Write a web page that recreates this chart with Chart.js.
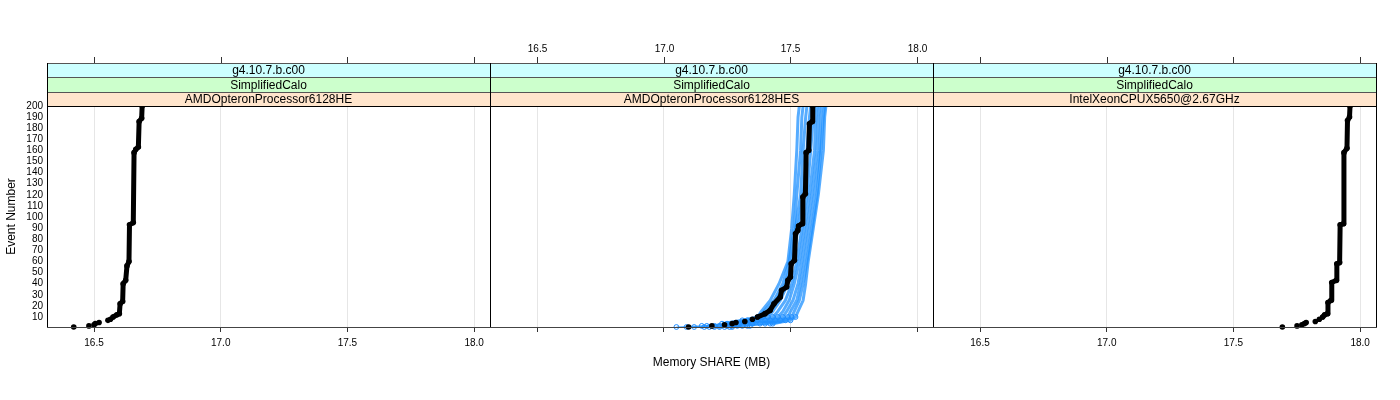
<!DOCTYPE html>
<html>
<head>
<meta charset="utf-8">
<script src="https://cdn.jsdelivr.net/npm/chart.js@4"></script>
<style>
  body { margin: 0; background: #fff; }
  #wrap { position: relative; width: 1400px; height: 400px; }
  canvas { position: absolute; top: 0; }
</style>
</head>
<body>
<div id="wrap">
  <canvas id="p1" width="490" height="400" style="left:0px"></canvas>
  <canvas id="p2" width="443" height="400" style="left:490px"></canvas>
  <canvas id="p3" width="467" height="400" style="left:933px"></canvas>
</div>
<script>
// tick labels and strip texts
const xTickValues = [16.5, 17.0, 17.5, 18.0];
const eventTickValues = [10, 20, 30, 40, 50, 60, 70, 80, 90, 100, 110, 120, 130, 140, 150, 160, 170, 180, 190, 200];
const stripVersion = "g4.10.7.b.c00";
const stripTest = "SimplifiedCalo";
const processors = ["AMDOpteronProcessor6128HE", "AMDOpteronProcessor6128HES", "IntelXeonCPUX5650@2.67GHz"];

// AMDOpteronProcessor6128HE (black), corner points of the curve
const heEvents = [1, 2, 3, 4, 5, 7, 8, 10, 12, 13, 22, 24, 40, 43, 56, 60, 93, 95, 158, 161, 163, 186, 189, 200];
const heShare = [16.42, 16.48, 16.50, 16.505, 16.52, 16.555, 16.565, 16.575, 16.59, 16.60, 16.603, 16.613, 16.615, 16.625, 16.63, 16.638, 16.64, 16.655, 16.658, 16.665, 16.675, 16.678, 16.688, 16.69];

// AMDOpteronProcessor6128HES (black reference)
const hesEvents = [1, 2, 3, 4, 5, 6, 8, 10, 13, 16, 22, 28, 34, 37, 43, 46, 58, 61, 85, 88, 92, 94, 118, 121, 158, 160, 184, 186, 200];
const hesShare = [17.098, 17.19, 17.24, 17.27, 17.285, 17.32, 17.35, 17.37, 17.40, 17.42, 17.435, 17.46, 17.465, 17.485, 17.49, 17.50, 17.503, 17.516, 17.52, 17.529, 17.532, 17.546, 17.549, 17.559, 17.562, 17.572, 17.575, 17.586, 17.588];

// AMDOpteronProcessor6128HES, other runs (blue)
const runEvents = [1, 2, 4, 7, 10, 15, 25, 40, 60, 90, 120, 160, 190, 200];
const run1 = [17.05, 17.15, 17.23, 17.31, 17.37, 17.385, 17.42, 17.455, 17.49, 17.505, 17.515, 17.525, 17.53, 17.535];
const run2 = [17.09, 17.17, 17.25, 17.33, 17.38, 17.395, 17.435, 17.47, 17.495, 17.515, 17.525, 17.54, 17.545, 17.55];
const run3 = [17.12, 17.20, 17.28, 17.35, 17.39, 17.41, 17.445, 17.48, 17.505, 17.52, 17.54, 17.55, 17.56, 17.565];
const run4 = [17.16, 17.22, 17.30, 17.37, 17.41, 17.43, 17.46, 17.49, 17.51, 17.53, 17.55, 17.565, 17.575, 17.58];
const run5 = [17.18, 17.25, 17.33, 17.40, 17.43, 17.45, 17.48, 17.505, 17.525, 17.545, 17.565, 17.58, 17.59, 17.595];
const run6 = [17.20, 17.27, 17.35, 17.42, 17.45, 17.47, 17.495, 17.515, 17.535, 17.555, 17.575, 17.595, 17.60, 17.605];
const run7 = [17.22, 17.29, 17.38, 17.44, 17.47, 17.485, 17.51, 17.53, 17.545, 17.565, 17.585, 17.605, 17.61, 17.615];
const run8 = [17.24, 17.31, 17.40, 17.46, 17.49, 17.50, 17.525, 17.54, 17.555, 17.575, 17.595, 17.615, 17.62, 17.625];
const run9 = [17.26, 17.33, 17.42, 17.48, 17.505, 17.515, 17.535, 17.55, 17.565, 17.585, 17.605, 17.62, 17.63, 17.635];
const run10 = [17.27, 17.34, 17.43, 17.50, 17.52, 17.53, 17.55, 17.56, 17.57, 17.59, 17.61, 17.63, 17.635, 17.64];

// IntelXeonCPUX5650@2.67GHz (black)
const xeonEvents = [1, 2, 3, 4, 5, 6, 8, 10, 12, 13, 23, 25, 41, 43, 58, 59, 93, 94, 158, 162, 187, 190, 200];
const xeonShare = [17.693, 17.751, 17.77, 17.78, 17.787, 17.823, 17.839, 17.852, 17.86, 17.871, 17.873, 17.885, 17.888, 17.906, 17.908, 17.919, 17.921, 17.934, 17.936, 17.948, 17.95, 17.958, 17.96];

Chart.defaults.font.family = "'Liberation Sans', Arial, sans-serif";
Chart.defaults.color = "#000";

function toPoints(events, share) {
  return events.map((e, i) => ({ x: share[i], y: e }));
}

function blackSet(events, share) {
  return {
    data: toPoints(events, share),
    showLine: true,
    borderColor: "#000",
    borderWidth: 5,
    borderJoinStyle: "round",
    borderCapStyle: "round",
    // the first events are separate dots, not a line
    segment: {
      borderColor: (c) => (c.p1.parsed.y <= 10 ? "rgba(0,0,0,0)" : undefined),
    },
    pointRadius: 2.8,
    pointBackgroundColor: "#000",
    pointBorderWidth: 0,
    clip: { left: 0, top: 0, right: 0, bottom: 4 },
  };
}

function blueSet(share) {
  return {
    data: toPoints(runEvents, share),
    showLine: true,
    borderColor: "rgba(30, 144, 255, 0.75)",
    borderWidth: 3,
    borderJoinStyle: "round",
    segment: {
      borderWidth: (c) => (c.p1.parsed.y <= 4 ? 1 : undefined),
    },
    // open circles only where the events are spread out at the bottom
    pointRadius: (c) => (c.raw && c.raw.y <= 10 ? 2.4 : 0),
    pointBorderColor: "#1e8cff",
    pointBackgroundColor: "rgba(0,0,0,0)",
    pointBorderWidth: 1,
    clip: { left: 0, top: 0, right: 0, bottom: 4 },
  };
}

// strips, frame and top ticks
const latticePlugin = {
  id: "lattice",
  afterDraw(chart, args, opts) {
    const { ctx, chartArea: a } = chart;
    const xs = chart.scales.x;
    ctx.save();
    const rows = [
      [63, 77, "#ccffff", stripVersion],
      [77, 92, "#ccffcc", stripTest],
      [92, 106, "#ffe5cc", opts.processor],
    ];
    ctx.font = "12px 'Liberation Sans', Arial, sans-serif";
    ctx.textAlign = "center";
    ctx.textBaseline = "middle";
    rows.forEach(([y0, y1, col, txt]) => {
      ctx.fillStyle = col;
      ctx.fillRect(a.left, y0, a.right - a.left, y1 - y0);
      ctx.strokeStyle = "#555";
      ctx.lineWidth = 1;
      ctx.strokeRect(a.left + 0.5, y0 + 0.5, a.right - a.left, y1 - y0);
      ctx.fillStyle = "#000";
      ctx.fillText(txt, (a.left + a.right) / 2, (y0 + y1) / 2 + 1);
    });
    // panel frame
    ctx.strokeStyle = "#000";
    ctx.beginPath();
    ctx.moveTo(a.left + 0.5, 63);
    ctx.lineTo(a.left + 0.5, a.bottom + 0.5);
    ctx.moveTo(a.left, a.top + 0.5);
    ctx.lineTo(a.right, a.top + 0.5);
    if (opts.rightEdge) {
      ctx.moveTo(a.right + 0.5, 63);
      ctx.lineTo(a.right + 0.5, a.bottom + 0.5);
    }
    ctx.stroke();
    ctx.strokeStyle = "#444";
    ctx.beginPath();
    ctx.moveTo(a.left, a.bottom + 0.5);
    ctx.lineTo(a.right + 1, a.bottom + 0.5);
    ctx.stroke();
    // top ticks
    ctx.strokeStyle = "#333";
    ctx.font = "10px 'Liberation Sans', Arial, sans-serif";
    ctx.fillStyle = "#000";
    xTickValues.forEach((v) => {
      const px = Math.round(xs.getPixelForValue(v)) + 0.5;
      ctx.beginPath();
      ctx.moveTo(px, 57);
      ctx.lineTo(px, 63);
      ctx.stroke();
      if (opts.topLabels) ctx.fillText(v.toFixed(1), px, 49);
    });
    ctx.restore();
  },
};

function makePanel(id, datasets, p) {
  return new Chart(document.getElementById(id), {
    type: "scatter",
    data: { datasets: datasets },
    plugins: [latticePlugin],
    options: {
      responsive: false,
      animation: false,
      devicePixelRatio: 1,
      layout: { autoPadding: false, padding: { left: 0, right: p.padRight, top: 106, bottom: 0 } },
      plugins: {
        legend: { display: false },
        tooltip: { enabled: false },
        lattice: { processor: p.processor, topLabels: p.topLabels, rightEdge: p.rightEdge },
      },
      scales: {
        x: {
          type: "linear",
          min: 16.3145,
          max: 18.0625,
          afterBuildTicks: (s) => {
            s.ticks = xTickValues.map((v) => ({ value: v }));
          },
          afterFit: (s) => {
            s.height = 73;
            s.paddingLeft = 0;
            s.paddingRight = 0;
          },
          grid: { color: "#e6e6e6", tickColor: "#333", tickLength: 5 },
          border: { display: false },
          ticks: {
            display: p.bottomLabels,
            autoSkip: false,
            maxRotation: 0,
            padding: 5,
            font: { size: 10 },
            callback: (v) => Number(v).toFixed(1),
          },
          title: {
            display: !!p.xTitle,
            text: p.xTitle || "",
            font: { size: 12 },
            padding: { top: 0, bottom: 30 },
          },
        },
        y: {
          type: "linear",
          min: 1,
          max: 200,
          display: p.yAxis,
          afterBuildTicks: (s) => {
            s.ticks = eventTickValues.map((v) => ({ value: v }));
          },
          afterFit: (s) => {
            s.width = p.yAxis ? 47 : 0;
          },
          grid: { display: false, drawTicks: false },
          border: { display: false },
          ticks: { autoSkip: false, padding: 4, font: { size: 10 } },
          title: {
            display: true,
            text: "Event Number",
            font: { size: 12 },
            padding: { top: 4, bottom: 0 },
          },
        },
      },
    },
  });
}

makePanel("p1", [blackSet(heEvents, heShare)], {
  processor: processors[0], padRight: 0, yAxis: true, bottomLabels: true, topLabels: false, rightEdge: false,
});

makePanel(
  "p2",
  [blackSet(hesEvents, hesShare)].concat([run1, run2, run3, run4, run5, run6, run7, run8, run9, run10].map(blueSet)),
  { processor: processors[1], padRight: 0, yAxis: false, bottomLabels: false, topLabels: true, rightEdge: false, xTitle: "Memory SHARE (MB)" }
);

makePanel("p3", [blackSet(xeonEvents, xeonShare)], {
  processor: processors[2], padRight: 24, yAxis: false, bottomLabels: true, topLabels: false, rightEdge: true,
});
</script>
</body>
</html>
